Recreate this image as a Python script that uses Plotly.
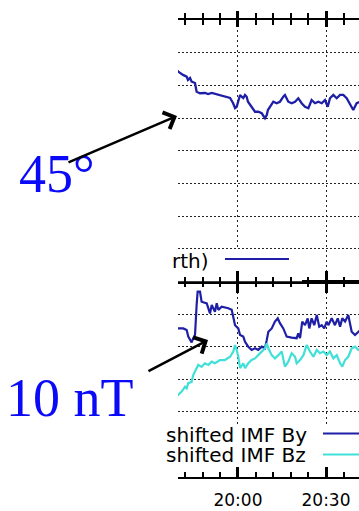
import pandas as pd
import plotly.graph_objects as go

# ---- data -------------------------------------------------------------
# time axis: minutes relative to 20:00 UT
BASE = pd.Timestamp("2000-01-01 20:00")

# upper panel: angle (deg, northern hemisphere)
angle_min = [-21.0, -20.35, -18.75, -17.5, -17.05, -16.35, -15.8, -14.65, -14.1,
             -12.95, -11.25, -10.2, -8.95, -6.8, -4.45, -2.7, -1.7, -1.0, -0.45,
             0.1, 0.7, 1.25, 1.8, 2.4, 2.95, 3.4, 4.65, 5.8, 6.9, 8.1, 9.2, 9.8,
             10.2, 11.5, 12.05, 13.2, 14.3, 15.45, 16.0, 17.15, 18.3, 19.45, 20.0,
             20.55, 21.7, 22.85, 24.0, 25.1, 26.25, 27.4, 28.55, 29.65, 30.6,
             31.35, 32.5, 33.65, 34.8, 35.9, 37.05, 38.2, 39.3, 40.45, 41.6]
angle_deg = [67.2, 66.3, 64.8, 64.0, 62.5, 63.4, 61.7, 61.1, 57.1,
             56.4, 56.5, 56.0, 56.5, 55.6, 54.8, 54.2, 51.9, 49.6, 50.2,
             52.5, 55.6, 54.8, 54.2, 55.6, 54.8, 52.5, 50.2, 47.9, 47.9, 47.2, 44.9, 46.4,
             48.7, 51.0, 52.5, 51.8, 52.5, 54.8, 55.6, 52.5, 51.8, 52.5, 53.3,
             54.1, 51.8, 50.2, 49.5, 53.3, 51.8, 52.5, 51.8, 53.3, 50.2,
             54.1, 55.6, 54.1, 55.6, 55.6, 54.1, 51.0, 48.7, 51.8, 52.5]

# lower panel: time-shifted IMF By (nT)
by_min = [-21.0, -20.35, -18.65, -17.5, -16.95, -16.35, -15.8, -15.25, -14.65, -14.1,
          -13.75, -12.95, -12.4, -10.65, -10.1, -9.55, -8.95, -7.85, -7.25, -6.7,
          -5.55, -3.3, -2.15, -1.6, -1.0, 0.1, 0.7, 1.8, 2.4, 3.5, 4.65, 5.8, 6.9,
          8.1, 9.2, 9.8, 10.35, 11.5, 12.6, 13.55, 14.3, 15.45, 16.6, 18.3, 20.0,
          20.55, 21.15, 21.9, 22.85, 23.75, 24.3, 25.1, 26.0, 26.85, 27.7, 28.55,
          29.4, 30.25, 30.8, 31.95, 33.05, 34.0, 34.8, 35.55, 36.5, 37.6, 38.75,
          39.9, 41.0, 41.6]
by_nt = [15.8, 15.6, 15.6, 15.1, 13.1, 12.0, 11.3, 12.6, 13.6, 22.8,
         26.9, 26.9, 23.8, 23.3, 21.8, 20.2, 22.8, 20.7, 23.3, 21.3,
         22.3, 21.8, 21.3, 18.7, 16.6, 15.6, 13.6, 13.1, 11.5, 10.0, 9.0, 9.5, 9.0,
         10.0, 9.5, 12.0, 14.6, 15.6, 17.7, 18.7, 17.2, 15.6, 13.1, 12.8, 12.6,
         14.1, 12.6, 17.7, 16.6, 18.7, 15.6, 18.7, 16.6, 19.7, 16.1, 16.6,
         15.6, 17.7, 16.6, 18.7, 16.6, 18.7, 16.1, 18.7, 17.7, 19.7, 14.6,
         13.6, 14.6, 15.0]

# lower panel: time-shifted IMF Bz (nT)
bz_min = [-21.0, -20.35, -19.2, -18.05, -17.5, -16.95, -15.8, -15.25, -14.65, -13.55,
          -12.4, -11.25, -10.1, -8.95, -7.85, -6.15, -4.45, -2.7, -1.6, -1.0,
          -0.45, 0.1, 0.7, 1.25, 1.8, 2.4, 3.5, 4.65, 5.8, 6.9, 8.1, 9.2, 9.8,
          10.35, 11.5, 12.6, 13.75, 14.9, 16.0, 17.15, 18.3, 19.45, 20.0, 21.15,
          22.3, 23.4, 24.55, 25.7, 26.85, 27.95, 29.1, 30.25, 31.35, 32.5, 33.65,
          34.8, 35.55, 36.5, 37.6, 38.75, 39.9, 41.0, 41.6]
bz_nt = [-5.3, -4.8, -3.8, -2.3, -2.8, -1.2, -0.8, 1.3, 2.3, 4.4,
         3.8, 4.9, 4.4, 5.4, 4.9, 5.9, 5.9, 6.9, 8.5, 10.5,
         9.0, 6.9, 3.4, 4.4, 4.9, 3.4, 4.9, 5.9, 6.4, 7.4, 8.5, 9.5, 11.0,
         9.5, 7.4, 6.4, 7.4, 8.5, 3.9, 5.4, 8.0, 6.9, 4.9, 5.9,
         7.4, 10.5, 8.5, 6.9, 9.0, 8.0, 8.5, 7.4, 8.5, 6.4, 7.4,
         4.9, 3.9, 5.9, 6.9, 9.5, 10.0, 9.0, 9.0]

tick_times = ["20:00", "20:30"]
legend_top = "rth)"
legend_by = "shifted IMF By"
legend_bz = "shifted IMF Bz"

# ---- styling ----------------------------------------------------------
W, H = 359, 511
NAVY = "#1e1ea6"
CYAN = "#40e0d8"
SANS = "DejaVu Sans"
SERIF = "Liberation Serif"


def px(x):
    return x / W


def py(y):
    return 1 - y / H


def at(m):
    return (BASE + pd.Timedelta(seconds=round(m * 60))).to_pydatetime()


def to_time(mins):
    return [at(m) for m in mins]


X_RANGE = [at(-20.45), at(41.25)]
X_DOM = [px(178), 1.0]
TOP_DOM = [py(281.5), py(20)]
BOT_DOM = [py(477), py(281.5)]
TOP_Y = [-30, 90]
BOT_Y = [-30, 30]
MAJOR = 30 * 60 * 1000
MINOR = 6 * 60 * 1000
TICK0 = BASE.to_pydatetime()

fig = go.Figure()

fig.add_trace(go.Scatter(x=to_time(angle_min), y=angle_deg, mode="lines",
                         line=dict(color=NAVY, width=2.3), xaxis="x2", yaxis="y2",
                         showlegend=False, hoverinfo="skip"))
fig.add_trace(go.Scatter(x=to_time(by_min), y=by_nt, mode="lines",
                         line=dict(color=NAVY, width=2.2), xaxis="x", yaxis="y",
                         showlegend=False, hoverinfo="skip"))
fig.add_trace(go.Scatter(x=to_time(bz_min), y=bz_nt, mode="lines",
                         line=dict(color=CYAN, width=2.2), xaxis="x", yaxis="y",
                         showlegend=False, hoverinfo="skip"))

# empty traces so that the tick-only axes are laid out
for xa, ya in [("x3", "y2"), ("x4", "y2"), ("x5", "y")]:
    fig.add_trace(go.Scatter(x=[], y=[], xaxis=xa, yaxis=ya,
                             showlegend=False, hoverinfo="skip"))


def tick_axis(**kw):
    base = dict(type="date", range=X_RANGE, domain=X_DOM, dtick=MAJOR, tick0=TICK0,
                tickcolor="black", tickwidth=2.5, showticklabels=False,
                showgrid=False, zeroline=False, fixedrange=True)
    base.update(kw)
    return base


def minor(n, direction):
    return dict(dtick=MINOR, tick0=TICK0, ticklen=n, tickwidth=1.5,
                tickcolor="black", ticks=direction, showgrid=False)


grid_x = dict(showgrid=True, gridcolor="#222222", gridwidth=1, griddash="2px,3px")
grid_y = dict(showgrid=True, gridcolor="#222222", gridwidth=1, griddash="2px,2px")

fig.update_layout(
    width=W, height=H,
    margin=dict(l=0, r=0, t=0, b=0),
    paper_bgcolor="white", plot_bgcolor="white",
    showlegend=False,
    # lower panel, bottom axis with labels
    xaxis=tick_axis(anchor="y", side="bottom", ticks="inside", ticklen=10,
                    minor=minor(5, "inside"), showline=True, linecolor="black",
                    linewidth=2, showticklabels=True, tickformat="%H:%M",
                    ticklabelstandoff=7,
                    tickfont=dict(family=SANS, size=17, color="black"), **grid_x),
    yaxis=dict(domain=BOT_DOM, range=BOT_Y, dtick=10, tick0=0,
               showticklabels=False, ticks="", zeroline=False, showline=False,
               fixedrange=True, **grid_y),
    # upper panel, shared border with ticks pointing up
    xaxis2=tick_axis(anchor="y2", side="bottom", ticks="inside", ticklen=11,
                     minor=minor(5, "inside"), showline=True, linecolor="black",
                     linewidth=2, **grid_x),
    yaxis2=dict(domain=TOP_DOM, range=TOP_Y, dtick=15, tick0=0,
                showticklabels=False, ticks="", zeroline=False, showline=False,
                fixedrange=True, **grid_y),
    # top border: ticks crossing the line
    xaxis3=tick_axis(anchor="y2", overlaying="x2", side="top", ticks="outside",
                     ticklen=7, minor=minor(5, "outside"), showline=True,
                     linecolor="black", linewidth=2),
    xaxis4=tick_axis(anchor="y2", overlaying="x2", side="top", ticks="inside",
                     ticklen=7, minor=minor(5, "inside")),
    # shared border, ticks pointing down into the lower panel
    xaxis5=tick_axis(anchor="y", overlaying="x", side="top", ticks="inside",
                     ticklen=11, minor=minor(5, "inside"), showline=True,
                     linecolor="black", linewidth=2),
)


def top_y(pix):
    # pixel row inside the upper panel -> degrees
    return TOP_Y[1] - (pix - 20) / (281.5 - 20) * (TOP_Y[1] - TOP_Y[0])


def bot_y(pix):
    # pixel row inside the lower panel -> nT
    return BOT_Y[1] - (pix - 281.5) / (477 - 281.5) * (BOT_Y[1] - BOT_Y[0])


def x_at(pix):
    return at((pix - 238) / 88 * 30)


shapes = [
    # legend boxes hide the grid underneath
    dict(type="rect", xref="x2", yref="y2", x0=X_RANGE[0], x1=x_at(302),
         y0=TOP_Y[0], y1=top_y(249), fillcolor="white", line=dict(width=0),
         layer="between"),
    dict(type="rect", xref="x", yref="y", x0=X_RANGE[0], x1=X_RANGE[1],
         y0=BOT_Y[0], y1=bot_y(424), fillcolor="white", line=dict(width=0),
         layer="between"),
    # legend sample lines
    dict(type="line", xref="paper", yref="paper", x0=px(225), x1=px(289),
         y0=py(259), y1=py(259), line=dict(color=NAVY, width=2.2), layer="above"),
    dict(type="line", xref="paper", yref="paper", x0=px(323), x1=1.0,
         y0=py(433.5), y1=py(433.5), line=dict(color=NAVY, width=2.2), layer="above"),
    dict(type="line", xref="paper", yref="paper", x0=px(323), x1=1.0,
         y0=py(454.5), y1=py(454.5), line=dict(color=CYAN, width=2.2), layer="above"),
]
fig.update_layout(shapes=shapes)

annotations = [
    dict(text=legend_top, x=px(211), y=py(261), xanchor="right", yanchor="middle",
         font=dict(family=SANS, size=20, color="black")),
    dict(text=legend_by, x=px(164), y=py(434.5), xanchor="left", yanchor="middle",
         font=dict(family=SANS, size=20, color="black")),
    dict(text=legend_bz, x=px(164), y=py(454.5), xanchor="left", yanchor="middle",
         font=dict(family=SANS, size=20, color="black")),
    dict(text="45°", x=px(57), y=py(174), xanchor="center", yanchor="middle",
         font=dict(family=SERIF, size=54, color="#0a0af8")),
    dict(text="10 nT", x=px(70), y=py(398), xanchor="center", yanchor="middle",
         font=dict(family=SERIF, size=54, color="#0a0af8")),
    # arrows
    dict(text="", x=px(177), y=py(116), ax=-110, ay=47, axref="pixel", ayref="pixel",
         showarrow=True, arrowhead=4, arrowsize=1.4, arrowwidth=2.5, arrowcolor="black"),
    dict(text="", x=px(208), y=py(340), ax=-61, ay=32, axref="pixel", ayref="pixel",
         showarrow=True, arrowhead=4, arrowsize=1.4, arrowwidth=2.5, arrowcolor="black"),
]
for a in annotations:
    a.setdefault("xref", "paper")
    a.setdefault("yref", "paper")
    a.setdefault("showarrow", False)
fig.update_layout(annotations=annotations)

fig.write_html("out.html")
